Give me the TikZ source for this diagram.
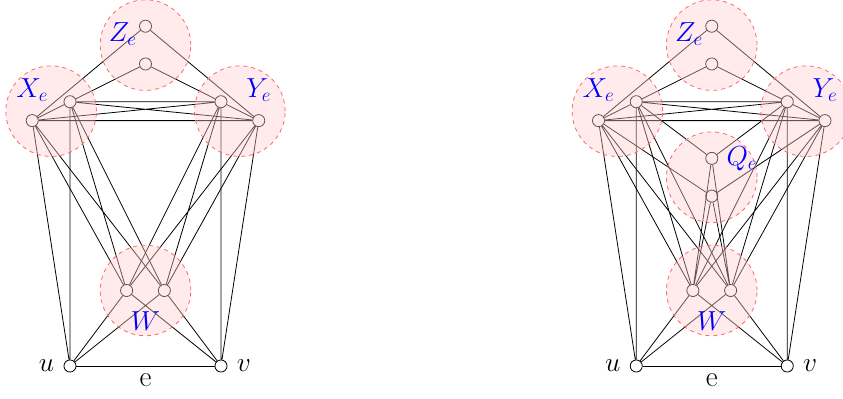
\documentclass[tikz,border=0pt]{standalone}
\usetikzlibrary{positioning}
\begin{document}
\begin{tikzpicture}[
    line width=0.6pt,
    vertex/.style={circle, draw, fill=white, inner sep=0pt, minimum size=0.32cm, line width=0.6pt},
    blob/.style={circle, draw=red!60, dashed, fill=red!20, fill opacity=0.4, minimum size=2.4cm, inner sep=0pt},
    setlabel/.style={text=blue, font=\fontsize{22}{26}\selectfont},
    endlabel/.style={font=\fontsize{22}{26}\selectfont}
]
    \useasboundingbox (-1.854,-0.874) rectangle (20.477,9.695);

    % Left graph: vertices
    \node[vertex] (lu) at (0,0) {};
    \node[vertex] (lv) at (4,0) {};
    \node[vertex] (lx1) at (-1,6.5) {};
    \node[vertex] (lx2) at (0,7) {};
    \node[vertex] (ly1) at (4,7) {};
    \node[vertex] (ly2) at (5,6.5) {};
    \node[vertex] (lz1) at (2,9) {};
    \node[vertex] (lz2) at (2,8) {};
    \node[vertex] (lw1) at (1.5,2) {};
    \node[vertex] (lw2) at (2.5,2) {};

    % Left graph: edges
    \draw (lu) -- node[endlabel, below=0.08cm] (le) {e} (lv);
    \draw (lu) -- (lx1) (lu) -- (lx2) (lv) -- (ly1) (lv) -- (ly2);
    \draw (lu) -- (lw1) (lu) -- (lw2) (lv) -- (lw1) (lv) -- (lw2);
    \draw (lx1) -- (lx2) (ly1) -- (ly2);
    \draw (lx1) -- (ly1) (lx1) -- (ly2) (lx2) -- (ly1) (lx2) -- (ly2);
    \draw (lx1) -- (lz1) -- (ly2) (lx2) -- (lz2) -- (ly1);
    \draw (lx1) -- (lw1) (lx1) -- (lw2) (lx2) -- (lw1) (lx2) -- (lw2);
    \draw (ly1) -- (lw1) (ly1) -- (lw2) (ly2) -- (lw1) (ly2) -- (lw2);

    % Left graph: sets
    \node[blob] (lX) at (-0.5,6.75) {};
    \node[blob] (lY) at (4.5,6.75) {};
    \node[blob] (lZ) at (2,8.5) {};
    \node[blob] (lW) at (2,2) {};
    \node[setlabel] (lXl) at (-1,7.3) {$X_e$};
    \node[setlabel] (lYl) at (5,7.3) {$Y_e$};
    \node[setlabel] (lZl) at (1.4,8.8) {$Z_e$};
    \node[setlabel] (lWl) at (2,1.2) {$W$};
    \node[endlabel, left=0.12cm of lu] (lul) {$u$};
    \node[endlabel, right=0.12cm of lv] (lvl) {$v$};

    \begin{scope}[xshift=15cm]
        % Right graph: vertices
        \node[vertex] (ru) at (0,0) {};
        \node[vertex] (rv) at (4,0) {};
        \node[vertex] (rx1) at (-1,6.5) {};
        \node[vertex] (rx2) at (0,7) {};
        \node[vertex] (ry1) at (4,7) {};
        \node[vertex] (ry2) at (5,6.5) {};
        \node[vertex] (rz1) at (2,9) {};
        \node[vertex] (rz2) at (2,8) {};
        \node[vertex] (rq1) at (2,5.5) {};
        \node[vertex] (rq2) at (2,4.5) {};
        \node[vertex] (rw1) at (1.5,2) {};
        \node[vertex] (rw2) at (2.5,2) {};

        % Right graph: edges
        \draw (ru) -- node[endlabel, below=0.08cm] (re) {e} (rv);
        \draw (ru) -- (rx1) (ru) -- (rx2) (rv) -- (ry1) (rv) -- (ry2);
        \draw (ru) -- (rw1) (ru) -- (rw2) (rv) -- (rw1) (rv) -- (rw2);
        \draw (rx1) -- (rx2) (ry1) -- (ry2);
        \draw (rx1) -- (ry1) (rx1) -- (ry2) (rx2) -- (ry1) (rx2) -- (ry2);
        \draw (rx1) -- (rz1) -- (ry2) (rx2) -- (rz2) -- (ry1);
        \draw (rx2) -- (rq1) -- (ry1) (rx1) -- (rq2) -- (ry2);
        \draw (rq1) -- (rw1) (rq1) -- (rw2) (rq2) -- (rw1) (rq2) -- (rw2);
        \draw (rx1) -- (rw1) (rx1) -- (rw2) (rx2) -- (rw1) (rx2) -- (rw2);
        \draw (ry1) -- (rw1) (ry1) -- (rw2) (ry2) -- (rw1) (ry2) -- (rw2);

        % Right graph: sets
        \node[blob] (rX) at (-0.5,6.75) {};
        \node[blob] (rY) at (4.5,6.75) {};
        \node[blob] (rZ) at (2,8.5) {};
        \node[blob] (rQ) at (2,5) {};
        \node[blob] (rW) at (2,2) {};
        \node[setlabel] (rXl) at (-1,7.3) {$X_e$};
        \node[setlabel] (rYl) at (5,7.3) {$Y_e$};
        \node[setlabel] (rZl) at (1.4,8.8) {$Z_e$};
        \node[setlabel] (rQl) at (2.8,5.5) {$Q_e$};
        \node[setlabel] (rWl) at (2,1.2) {$W$};
        \node[endlabel, left=0.12cm of ru] (rul) {$u$};
        \node[endlabel, right=0.12cm of rv] (rvl) {$v$};
    \end{scope}
\end{tikzpicture}
\end{document}
